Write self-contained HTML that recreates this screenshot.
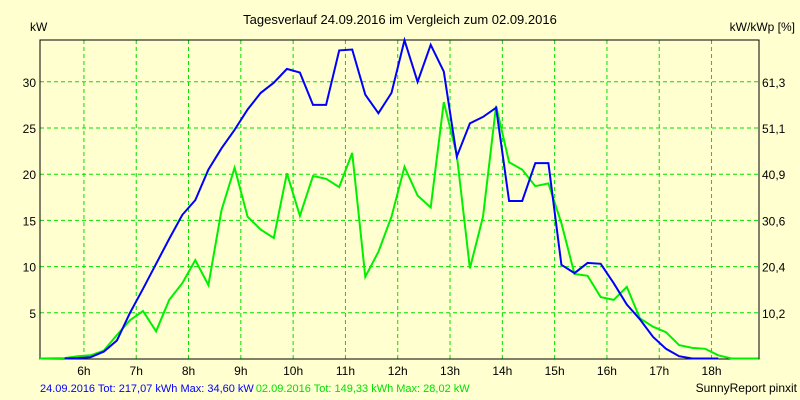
<!DOCTYPE html>
<html><head><meta charset="utf-8"><style>
body{margin:0;background:#ffffd0;}
svg{display:block;font-family:"Liberation Sans",sans-serif;font-size:12px;}
</style></head><body>
<svg id="chart" width="800" height="400" viewBox="0 0 800 400">
<rect x="0" y="0" width="800" height="400" fill="#ffffd0"/>
<text x="400" y="24" text-anchor="middle" fill="#000" style="font-size:13px">Tagesverlauf 24.09.2016 im Vergleich zum 02.09.2016</text>
<text x="30" y="31" fill="#000">kW</text>
<text x="795" y="31" text-anchor="end" fill="#000">kW/kWp [%]</text>
<g id="grid"></g>
<g id="axes"></g>
<g id="series"></g>
<text y="392" style="font-size:11px"><tspan x="40" fill="#0000ff">24.09.2016 Tot: 217,07 kWh Max: 34,60 kW</tspan><tspan fill="#00e000" dx="2">02.09.2016 Tot: 149,33 kWh Max: 28,02 kW</tspan></text>
<text x="797" y="392" text-anchor="end" fill="#000">SunnyReport pinxit</text>
</svg>
<script>
const hourTicks=[6,7,8,9,10,11,12,13,14,15,16,17,18];
const kwTicks=[5,10,15,20,25,30];
const pctLabels=["10,2","20,4","30,6","40,9","51,1","61,3"];
const timesBlue=[5.63,5.88,6.13,6.38,6.63,6.88,7.13,7.38,7.63,7.88,8.13,8.38,8.63,8.88,9.13,9.38,9.63,9.88,10.13,10.38,10.63,10.88,11.13,11.38,11.63,11.88,12.13,12.38,12.63,12.88,13.13,13.38,13.63,13.88,14.13,14.38,14.63,14.88,15.13,15.38,15.63,15.88,16.13,16.38,16.63,16.88,17.13,17.38,17.63,17.88,18.13];
const valuesBlue=[0.05,0.1,0.2,0.8,2.0,5.0,7.6,10.3,13.0,15.6,17.2,20.5,22.8,24.8,27.0,28.8,29.9,31.4,31.0,27.5,27.5,33.4,33.5,28.6,26.6,28.8,34.5,30.0,34.0,31.1,21.9,25.5,26.2,27.2,17.1,17.1,21.2,21.2,10.2,9.3,10.4,10.3,8.2,5.9,4.3,2.4,1.1,0.3,0.05,0.05,0.05];
const timesGreen=[5.16,5.63,5.88,6.13,6.38,6.63,6.88,7.13,7.38,7.63,7.88,8.13,8.38,8.63,8.88,9.13,9.38,9.63,9.88,10.13,10.38,10.63,10.88,11.13,11.38,11.63,11.88,12.13,12.38,12.63,12.88,13.13,13.38,13.63,13.88,14.13,14.38,14.63,14.88,15.13,15.38,15.63,15.88,16.13,16.38,16.63,16.88,17.13,17.38,17.63,17.88,18.13,18.38,18.9];
const valuesGreen=[0.05,0.1,0.3,0.4,0.9,2.6,4.2,5.2,3.0,6.4,8.2,10.7,8.0,16.1,20.7,15.4,14.0,13.1,20.1,15.5,19.8,19.5,18.6,22.3,8.9,11.6,15.4,20.8,17.7,16.4,27.8,22.1,9.8,15.4,27.4,21.3,20.5,18.7,19.0,14.7,9.2,9.0,6.7,6.4,7.8,4.4,3.5,2.9,1.5,1.2,1.1,0.4,0.05,0.05];
const L=40,R=759,T=40,B=359;
const xS=t=>L+(t-5.16)*52.3;
const yS=v=>B-v*9.24;
const NS="http://www.w3.org/2000/svg";
function mk(tag,parent){const e=document.createElementNS(NS,tag);parent.appendChild(e);return e;}
const grid=document.getElementById('grid'),axes=document.getElementById('axes'),series=document.getElementById('series');
hourTicks.forEach(h=>{
  const x=xS(h);
  const ln=mk('line',grid);
  
  
  ln.setAttribute('x1',x);ln.setAttribute('x2',x);ln.setAttribute('y1',T);ln.setAttribute('y2',B);
  ln.setAttribute('stroke','#00e000');ln.setAttribute('stroke-dasharray','4,3');
  const tx=mk('text',axes);
  
  
  tx.setAttribute('x',x);tx.setAttribute('y',375);tx.setAttribute('text-anchor','middle');
  tx.textContent=h+'h';
});
kwTicks.forEach((k,i)=>{
  const y=yS(k);
  const ln=mk('line',grid);
  
  
  ln.setAttribute('x1',L);ln.setAttribute('x2',R);ln.setAttribute('y1',y);ln.setAttribute('y2',y);
  ln.setAttribute('stroke','#00e000');ln.setAttribute('stroke-dasharray','4,3');
  const tl=mk('text',axes);
  
  
  tl.setAttribute('x',36);tl.setAttribute('y',y+5);tl.setAttribute('text-anchor','end');
  tl.textContent=k;
  const tr=mk('text',axes);
  
  
  tr.setAttribute('x',762);tr.setAttribute('y',y+5);
  tr.textContent=pctLabels[i];
});
const fr=mk('rect',axes);


fr.setAttribute('x',L);fr.setAttribute('y',T);fr.setAttribute('width',R-L);fr.setAttribute('height',B-T);
fr.setAttribute('fill','none');fr.setAttribute('stroke','#000');
function line(ts,vs,color,name){
  const p=mk('polyline',series);
  
  
  p.setAttribute('points',ts.map((t,i)=>xS(t).toFixed(1)+','+yS(vs[i]).toFixed(1)).join(' '));
  p.setAttribute('fill','none');p.setAttribute('stroke',color);p.setAttribute('stroke-width','2');
}
line(timesGreen,valuesGreen,'#00f000','series-02-09-2016');
line(timesBlue,valuesBlue,'#0000ff','series-24-09-2016');
</script>
</body></html>
